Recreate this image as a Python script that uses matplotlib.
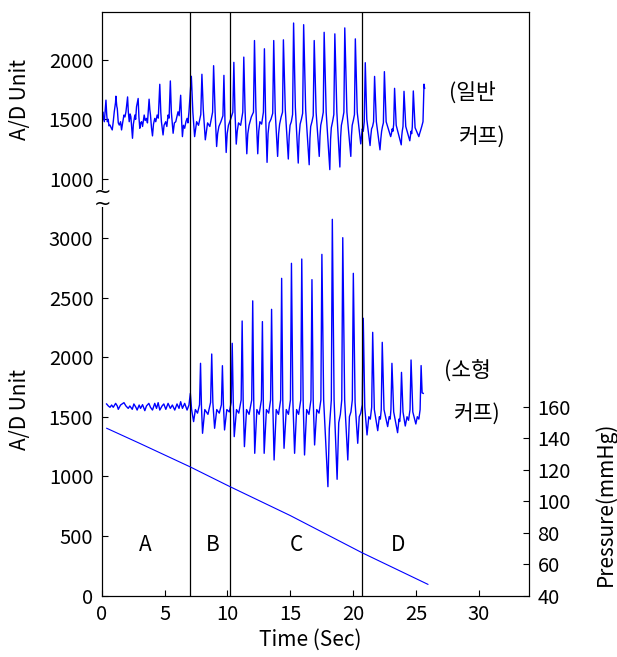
import numpy as np
import matplotlib
matplotlib.use("Agg")
import matplotlib.pyplot as plt

plt.rcParams['font.family'] = ['Noto Sans CJK KR', 'DejaVu Sans']

# ---- data ----
# upper trace (일반 커프), A/D units
top_time = [0.00, 0.05, 0.08, 0.12, 0.21, 0.30, 0.34, 0.40, 0.45, 0.52, 0.58, 0.66,
            0.75, 0.84, 0.92, 1.00, 1.10, 1.13, 1.20, 1.24, 1.32, 1.40, 1.50, 1.58,
            1.66, 1.77, 1.85, 1.93, 2.06, 2.12, 2.19, 2.26, 2.32, 2.45, 2.52, 2.64,
            2.70, 2.77, 2.90, 2.96, 3.03, 3.10, 3.17, 3.25, 3.38, 3.46, 3.56, 3.64,
            3.77, 3.83, 3.88, 3.96, 4.04, 4.12, 4.22, 4.30, 4.41, 4.50, 4.62, 4.70,
            4.75, 4.88, 4.96, 5.09, 5.18, 5.28, 5.36, 5.46, 5.54, 5.60, 5.68, 5.78,
            5.89, 5.98, 6.07, 6.16, 6.28, 6.36, 6.42, 6.50, 6.60, 6.70, 6.79, 6.86,
            6.94,
            7.13, 7.25, 7.39, 7.47, 7.55, 7.70, 7.88,
            7.97, 8.08, 8.24, 8.33, 8.42, 8.60, 8.82,
            8.90, 9.02, 9.14, 9.22, 9.32, 9.48, 9.64,
            9.72, 9.80, 9.90, 9.98, 10.08, 10.25, 10.43,
            10.51, 10.60, 10.70, 10.78, 10.88, 11.05, 11.22,
            11.30, 11.40, 11.54, 11.62, 11.72, 11.90, 12.07,
            12.15, 12.26, 12.41, 12.49, 12.58, 12.72, 12.86,
            12.94, 13.03, 13.15, 13.23, 13.32, 13.46, 13.60,
            13.68, 13.80, 13.99, 14.07, 14.15, 14.27, 14.38,
            14.45, 14.60, 14.84, 14.91, 14.98, 15.08, 15.18,
            15.26, 15.40, 15.63, 15.70, 15.78, 15.88, 15.98,
            16.06, 16.22, 16.50, 16.56, 16.62, 16.72, 16.82,
            16.90, 17.05, 17.30, 17.36, 17.42, 17.52, 17.62,
            17.69, 17.85, 18.14, 18.20, 18.26, 18.36, 18.46,
            18.54, 18.70, 18.94, 19.00, 19.06, 19.16, 19.26,
            19.33, 19.50, 19.81, 19.86, 19.92, 20.01, 20.10,
            20.17, 20.32, 20.60, 20.66, 20.72, 20.80, 20.88,
            20.96, 21.08, 21.34, 21.40, 21.46, 21.54, 21.62,
            21.70, 21.84, 22.13, 22.20, 22.26, 22.33, 22.40,
            22.48, 22.62, 22.98, 23.04, 23.10, 23.16, 23.22,
            23.29, 23.42, 23.82, 23.86, 23.90, 23.93, 23.96,
            24.04, 24.18, 24.50, 24.55, 24.60, 24.65, 24.70,
            24.78, 24.92, 25.22, 25.28, 25.34, 25.45, 25.55,
            25.63, 25.68]
top_adc = [1536, 1494, 1563, 1520, 1480, 1600, 1661, 1540, 1480, 1500, 1445, 1452,
           1430, 1411, 1480, 1563, 1640, 1694, 1610, 1591, 1470, 1452, 1480, 1411,
           1467, 1536, 1520, 1563, 1688, 1560, 1480, 1545, 1522, 1341, 1460, 1536,
           1500, 1605, 1675, 1520, 1425, 1470, 1480, 1440, 1536, 1490, 1508, 1470,
           1669, 1580, 1536, 1430, 1361, 1460, 1508, 1480, 1536, 1510, 1794, 1560,
           1480, 1369, 1450, 1480, 1440, 1536, 1510, 1822, 1560, 1480, 1383, 1470,
           1480, 1520, 1563, 1530, 1702, 1480, 1355, 1450, 1425, 1480, 1508, 1470,
           1563,
           1861, 1560, 1355, 1420, 1480, 1450, 1540,
           1878, 1580, 1328, 1400, 1470, 1440, 1560,
           1950, 1560, 1272, 1380, 1440, 1480, 1530,
           1869, 1500, 1222, 1380, 1450, 1500, 1560,
           1978, 1560, 1292, 1400, 1470, 1450, 1560,
           2022, 1580, 1211, 1380, 1450, 1520, 1560,
           2161, 1600, 1211, 1400, 1480, 1460, 1560,
           2092, 1560, 1139, 1380, 1470, 1500, 1550,
           2161, 1560, 1189, 1380, 1460, 1520, 1560,
           2167, 1580, 1167, 1360, 1450, 1480, 1540,
           2308, 1600, 1133, 1360, 1460, 1500, 1550,
           2294, 1580, 1119, 1340, 1440, 1480, 1530,
           2161, 1560, 1189, 1360, 1450, 1500, 1560,
           2230, 1560, 1078, 1330, 1430, 1480, 1540,
           2217, 1560, 1100, 1350, 1450, 1500, 1560,
           2267, 1560, 1189, 1360, 1450, 1490, 1540,
           2175, 1560, 1294, 1360, 1420, 1400, 1480,
           1975, 1500, 1280, 1360, 1420, 1440, 1480,
           1860, 1480, 1244, 1340, 1400, 1440, 1470,
           1900, 1480, 1355, 1380, 1420, 1400, 1460,
           1760, 1450, 1286, 1360, 1400, 1420, 1440,
           1735, 1440, 1320, 1360, 1400, 1380, 1440,
           1738, 1430, 1355, 1380, 1400, 1440, 1480,
           1795, 1760]

# lower trace (소형 커프), A/D units
bot_time = [0.39, 0.53, 0.66, 0.79, 0.92, 1.11, 1.24, 1.32, 1.50, 1.77, 1.93, 2.11,
            2.24, 2.43, 2.56, 2.72, 2.82, 2.98, 3.09, 3.25, 3.43, 3.56, 3.75, 3.88,
            4.04, 4.22, 4.36, 4.49, 4.62, 4.80, 4.94, 5.10, 5.28, 5.46, 5.62, 5.81,
            5.99, 6.15, 6.28, 6.42, 6.60, 6.79, 6.94,
            7.05, 7.15, 7.31, 7.45, 7.62, 7.78,
            7.86, 7.93, 8.02, 8.20, 8.45, 8.66,
            8.75, 8.84, 8.98, 9.15, 9.35, 9.52,
            9.60, 9.68, 9.77, 9.95, 10.15, 10.30,
            10.38, 10.46, 10.54, 10.72, 10.90, 11.09,
            11.17, 11.25, 11.35, 11.52, 11.72, 11.93,
            12.01, 12.09, 12.17, 12.34, 12.52, 12.70,
            12.78, 12.85, 12.92, 13.10, 13.28, 13.43,
            13.51, 13.60, 13.71, 13.88, 14.06, 14.23,
            14.31, 14.40, 14.50, 14.68, 14.85, 15.01,
            15.09, 15.20, 15.34, 15.50, 15.66, 15.83,
            15.91, 16.02, 16.13, 16.30, 16.48, 16.64,
            16.72, 16.82, 16.93, 17.10, 17.28, 17.43,
            17.51, 17.65, 17.99, 18.10, 18.18, 18.26,
            18.34, 18.48, 18.72, 18.85, 18.98, 19.09,
            19.17, 19.32, 19.57, 19.70, 19.82, 19.93,
            20.01, 20.15, 20.36, 20.48, 20.60, 20.72,
            20.80, 20.92, 21.10, 21.24, 21.36, 21.47,
            21.55, 21.68, 21.95, 22.08, 22.16, 22.23,
            22.31, 22.45, 22.74, 22.86, 22.94, 23.00,
            23.08, 23.22, 23.53, 23.64, 23.70, 23.76,
            23.84, 23.96, 24.14, 24.28, 24.40, 24.52,
            24.60, 24.74, 24.98, 25.10, 25.22, 25.32,
            25.40, 25.48, 25.57]
bot_adc = [1607, 1590, 1579, 1598, 1579, 1612, 1590, 1562, 1598, 1618, 1590, 1570,
           1590, 1562, 1607, 1579, 1556, 1598, 1570, 1601, 1551, 1590, 1612, 1579,
           1556, 1612, 1570, 1618, 1556, 1590, 1607, 1562, 1612, 1570, 1598, 1556,
           1607, 1570, 1626, 1570, 1612, 1556, 1598,
           1696, 1560, 1459, 1560, 1530, 1600,
           1948, 1600, 1361, 1560, 1520, 1620,
           2026, 1620, 1403, 1560, 1530, 1600,
           1928, 1600, 1389, 1560, 1540, 1620,
           2116, 1640, 1333, 1560, 1530, 1640,
           2303, 1640, 1249, 1560, 1520, 1640,
           2472, 1640, 1193, 1560, 1520, 1640,
           2298, 1640, 1193, 1560, 1530, 1640,
           2401, 1640, 1137, 1560, 1520, 1640,
           2661, 1640, 1235, 1560, 1520, 1640,
           2787, 1640, 1193, 1560, 1520, 1640,
           2823, 1640, 1179, 1560, 1520, 1640,
           2650, 1640, 1263, 1560, 1530, 1640,
           2862, 1640, 913, 1400, 1520, 1640,
           3156, 1640, 975, 1450, 1520, 1640,
           3002, 1640, 1137, 1500, 1540, 1640,
           2703, 1620, 1277, 1500, 1530, 1600,
           2326, 1580, 1347, 1500, 1480, 1580,
           2208, 1560, 1383, 1500, 1480, 1560,
           2124, 1560, 1417, 1500, 1480, 1560,
           1948, 1540, 1366, 1480, 1460, 1540,
           1872, 1540, 1422, 1500, 1470, 1560,
           1976, 1540, 1439, 1500, 1480, 1560,
           1929, 1700, 1696]

# cuff pressure, mmHg
press_time = [0.40, 3.0, 7.0, 10.2, 15.0, 20.7, 25.94]
press_mmhg = [146.3, 136.8, 121.9, 109.2, 90.8, 67.2, 47.1]

phase_bounds = [7.0, 10.2, 20.7]
phase_names = ['A', 'B', 'C', 'D']
phase_x = [3.5, 8.8, 15.5, 23.6]

top_offset = 2495   # upper trace is drawn above the lower one on the same axis

fig = plt.figure(figsize=(6.17, 6.57), dpi=100)
ax = fig.add_axes([0.1648, 0.0936, 0.6930, 0.8886])

blue = '#0000ff'
ax.plot(top_time, np.array(top_adc) + top_offset, color=blue, lw=1.0)
ax.plot(bot_time, bot_adc, color=blue, lw=1.0)
for b in phase_bounds:
    ax.axvline(b, color='black', lw=0.9)
for name, x in zip(phase_names, phase_x):
    ax.text(x, 424, name, ha='center', va='center', fontsize=15)

ax.set_xlim(0, 34)
ax.set_ylim(0, 4898)
ax.set_xticks([0, 5, 10, 15, 20, 25, 30])
low_ticks = [0, 500, 1000, 1500, 2000, 2500, 3000]
high_ticks = [1000, 1500, 2000]
ax.set_yticks(low_ticks + [v + top_offset for v in high_ticks])
ax.set_yticklabels([str(v) for v in low_ticks + high_ticks])
ax.tick_params(direction='in', labelsize=14.5, length=4, pad=6)

ax2 = ax.twinx()
ax2.plot(press_time, press_mmhg, color=blue, lw=0.8)
ax2.set_ylim(40, 411.1)
ax2.set_yticks([40, 60, 80, 100, 120, 140, 160])
ax2.tick_params(direction='in', labelsize=14.5, length=4, pad=6)

# axis break mark on the left spine
fig.patches.append(plt.Rectangle((0.1600, 1 - 207 / 657), 0.01, 17 / 657,
                                 transform=fig.transFigure, facecolor='white',
                                 edgecolor='none', zorder=5))
fig.text(102 / 617, 1 - 198 / 657, '~\n~', ha='center', va='center', fontsize=15,
         linespacing=0.5, family='DejaVu Sans', zorder=6)

fig.text(20 / 617, 1 - 100 / 657, 'A/D Unit', rotation=90, ha='center', va='center', fontsize=15)
fig.text(20 / 617, 1 - 410 / 657, 'A/D Unit', rotation=90, ha='center', va='center', fontsize=15)
fig.text(310 / 617, 1 - 640 / 657, 'Time (Sec)', ha='center', va='center', fontsize=15)
fig.text(606 / 617, 1 - 504 / 657, 'Pressure(mmHg)', rotation=90, ha='center', va='center', fontsize=15)

fig.text(472 / 617, 1 - 93 / 657, '(일반', ha='center', va='center', fontsize=15.5)
fig.text(482 / 617, 1 - 137 / 657, '커프)', ha='center', va='center', fontsize=15.5)
fig.text(467 / 617, 1 - 372 / 657, '(소형', ha='center', va='center', fontsize=15.5)
fig.text(477 / 617, 1 - 414 / 657, '커프)', ha='center', va='center', fontsize=15.5)

fig.savefig('out.png', dpi=100)
